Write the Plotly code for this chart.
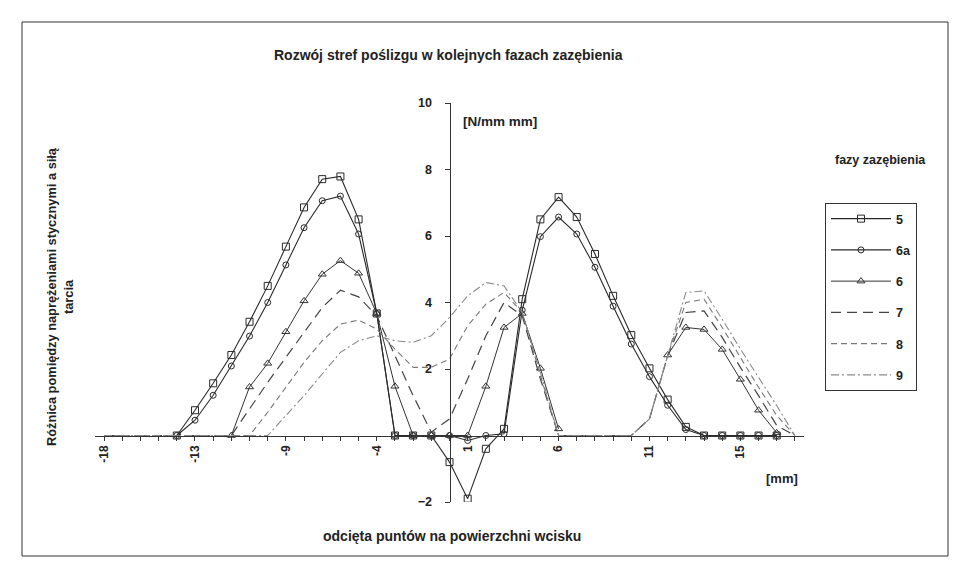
import plotly.graph_objects as go

# category positions (relative to the vertical axis) and labels
x = list(range(-19, 20))
tick_positions = [-19, -14, -9, -4, 1, 6, 11, 16]
tick_labels = ["-18", "-13", "-9", "-4", "1", "6", "11", "15"]
y_ticks = [-2, 2, 4, 6, 8, 10]
N = None

# faza 5 (squares)
s5 = [N, N, N, N, 0, 0.76, 1.57, 2.42, 3.42, 4.5, 5.68, 6.86, 7.71, 7.79, 6.5, 3.67,
      0, 0, 0, -0.8, -1.9, -0.4, 0.2, 4.1, 6.5, 7.17, 6.57, 5.46, 4.2, 3.02, 2.02,
      1.08, 0.26, 0, 0, 0, 0, 0, N]
# faza 6a (circles)
s6a = [N, N, N, N, 0, 0.46, 1.21, 2.09, 2.99, 4.0, 5.13, 6.25, 7.06, 7.2, 6.06, 3.67,
       0, 0, 0, 0, -0.15, 0, 0.05, 3.77, 5.98, 6.57, 6.06, 5.06, 3.89, 2.75, 1.77,
       0.91, 0.18, 0, 0, 0, 0, 0, N]
# faza 6 (triangles)
s6 = [N, N, N, N, N, N, N, 0, 1.46, 2.17, 3.12, 4.05, 4.85, 5.26, 4.88, 3.67,
      1.48, 0, 0, 0, 0, 1.48, 3.25, 3.67, 2.02, 0.2, N, N, N, N, N,
      2.42, 3.25, 3.19, 2.59, 1.69, 0.76, 0.08, N]
# faza 7
s7 = [0, 0, 0, 0, 0, 0, 0, 0, 0.8, 1.6, 2.35, 3.1, 3.85, 4.37, 4.17, 3.6,
      2.4, 1.2, 0.1, 0.5, 1.7, 3.0, 4.0, 3.6, 1.7, 0, 0, 0, 0, 0, 0.5,
      2.4, 3.7, 3.75, 2.95, 2.05, 1.2, 0.3, 0]
# faza 8
s8 = [0, 0, 0, 0, 0, 0, 0, 0, 0, 0.7, 1.45, 2.2, 2.85, 3.35, 3.47, 3.2,
      2.6, 2.05, 2.05, 2.3, 3.3, 3.95, 4.3, 3.7, 1.8, 0, 0, 0, 0, 0, 0.5,
      2.4, 4.0, 4.1, 3.25, 2.35, 1.45, 0.6, 0]
# faza 9
s9 = [0, 0, 0, 0, 0, 0, 0, 0, 0, 0, 0.6, 1.2, 1.85, 2.5, 2.85, 3.0,
      2.85, 2.8, 3.0, 3.55, 4.2, 4.6, 4.5, 3.7, 1.9, 0, 0, 0, 0, 0, 0.5,
      2.4, 4.3, 4.35, 3.5, 2.6, 1.75, 0.9, 0]

series = [
    ("5", s5, dict(color="#2a2a2a", width=1.1), dict(symbol="square-open", size=7, color="#2a2a2a")),
    ("6a", s6a, dict(color="#2a2a2a", width=1.1), dict(symbol="circle-open", size=6, color="#2a2a2a")),
    ("6", s6, dict(color="#333333", width=1.0), dict(symbol="triangle-up-open", size=7, color="#333333")),
    ("7", s7, dict(color="#444444", width=1.2, dash="10px,6px"), None),
    ("8", s8, dict(color="#777777", width=1.1, dash="6px,4px"), None),
    ("9", s9, dict(color="#8a8a8a", width=1.1, dash="8px,3px,2px,3px"), None),
]

FAM = "Liberation Sans, Arial, sans-serif"


def bf(size):
    return dict(family=FAM, size=size, color="#222", weight="bold")


fig = go.Figure()
for i, (name, ys, line, marker) in enumerate(series):
    fig.add_trace(go.Scatter(
        x=x, y=ys, name=name, mode="lines+markers" if marker else "lines",
        line=line, marker=marker, connectgaps=False, legendgroup=f"g{i}",
    ))

# tick labels only every fifth category, tick marks on every category
all_text = [tick_labels[tick_positions.index(v)] if v in tick_positions else "" for v in x]

fig.update_layout(
    width=956, height=571,
    margin=dict(l=95, r=152, t=103, b=69),
    paper_bgcolor="white", plot_bgcolor="white",
    font=bf(12),
    xaxis=dict(range=[-19.5, 19.5], anchor="free", position=2 / 12,
               tickvals=x, ticktext=all_text, tickangle=-90,
               ticks="outside", ticklen=4, tickcolor="#333",
               showline=True, linecolor="#333", linewidth=1,
               showgrid=False, zeroline=False, tickfont=bf(12)),
    yaxis=dict(range=[-2, 10], anchor="free", position=0.5,
               tickvals=y_ticks, ticks="outside", ticklen=5, tickcolor="#333",
               showline=True, linecolor="#333", linewidth=1,
               showgrid=False, zeroline=False, tickfont=bf(12.5), ticklabelstandoff=10),
    legend=dict(x=(825 - 95) / 709, y=(502 - 203) / 399, xanchor="left", yanchor="top",
                bordercolor="#333", borderwidth=1, bgcolor="white",
                font=bf(12.5), itemwidth=60, tracegroupgap=12),
    showlegend=True,
)

ann = [
    dict(text="Rozwój stref poślizgu w kolejnych fazach zazębienia", x=0.498, y=(502 - 55) / 399, size=14),
    dict(text="[N/mm mm]", x=(500 - 95) / 709, y=(502 - 121) / 399, size=13.5),
    dict(text="[mm]", x=(782 - 95) / 709, y=(502 - 478) / 399, size=13),
    dict(text="odcięta puntów na powierzchni wcisku", x=(452 - 95) / 709, y=(502 - 536) / 399, size=14),
    dict(text="fazy zazębienia", x=(880 - 95) / 709, y=(502 - 160) / 399, size=12.5),
    dict(text="Różnica pomiędzy naprężeniami stycznymi a siłą<br>tarcia", x=(60 - 95) / 709,
         y=(502 - 297) / 399, textangle=-90, size=12.8),
]
for a in ann:
    size = a.pop("size")
    fig.add_annotation(xref="paper", yref="paper", showarrow=False,
                       xanchor="center", yanchor="middle", font=bf(size), **a)

fig.add_shape(type="rect", xref="paper", yref="paper",
              x0=(22 - 95) / 709, x1=(948 - 95) / 709, y0=(502 - 556) / 399, y1=(502 - 22) / 399,
              line=dict(color="#333", width=1))

fig.write_html("out.html", config={"displayModeBar": False},
               post_script="document.body.style.margin='0';")
